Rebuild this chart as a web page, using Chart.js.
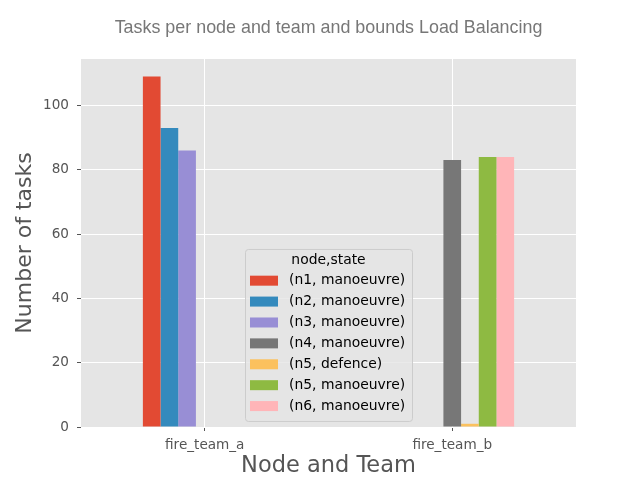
<!DOCTYPE html>
<html>
<head>
<meta charset="utf-8">
<script src="https://cdn.jsdelivr.net/npm/chart.js@4"></script>
<style>
  html, body { margin: 0; padding: 0; background: #ffffff; }
  #wrap { width: 640px; height: 480px; }
</style>
</head>
<body>
<div id="wrap"><canvas id="c" width="640" height="480"></canvas></div>
<script>
const categories = ["fire_team_a", "fire_team_b"];
const seriesLabels = ["(n1, manoeuvre)", "(n2, manoeuvre)", "(n3, manoeuvre)", "(n4, manoeuvre)", "(n5, defence)", "(n5, manoeuvre)", "(n6, manoeuvre)"];
const n1Manoeuvre = [109, null];
const n2Manoeuvre = [93, null];
const n3Manoeuvre = [86, null];
const n4Manoeuvre = [null, 83];
const n5Defence = [null, 1];
const n5Manoeuvre = [null, 84];
const n6Manoeuvre = [null, 84];
const yTicks = [0, 20, 40, 60, 80, 100];
const chartTitle = "Tasks per node and team and bounds Load Balancing";
const xTitle = "Node and Team";
const yTitle = "Number of tasks";
const legendTitle = "node,state";

const seriesValues = [n1Manoeuvre, n2Manoeuvre, n3Manoeuvre, n4Manoeuvre, n5Defence, n5Manoeuvre, n6Manoeuvre];
const colors = ["#E24A33", "#348ABD", "#988ED5", "#777777", "#FBC15E", "#8EBA42", "#FFB5B8"];

const allVals = seriesValues.flat().filter(v => v !== null);
const yMax = Math.max(...allVals) * 1.05;

const bgPlugin = {
  id: 'plotBg',
  beforeDraw(chart) {
    const {ctx, chartArea: a} = chart;
    ctx.save();
    ctx.fillStyle = '#E5E5E5';
    ctx.fillRect(a.left, a.top, a.right - a.left, a.bottom - a.top);
    ctx.restore();
  }
};

const legendPlugin = {
  id: 'innerLegend',
  afterDatasetsDraw(chart) {
    const {ctx, chartArea: a} = chart;
    const x0 = a.left + 164, y0 = a.top + 190, w = 167, h = 172;
    ctx.save();
    ctx.beginPath();
    if (ctx.roundRect) ctx.roundRect(x0 + 0.5, y0 + 0.5, w, h, 3); else ctx.rect(x0 + 0.5, y0 + 0.5, w, h);
    ctx.fillStyle = 'rgba(229,229,229,0.8)';
    ctx.fill();
    ctx.strokeStyle = '#CCCCCC';
    ctx.lineWidth = 1;
    ctx.stroke();
    ctx.font = '13.9px "DejaVu Sans"';
    ctx.fillStyle = '#000000';
    ctx.textBaseline = 'middle';
    ctx.textAlign = 'center';
    ctx.fillText(legendTitle, x0 + w / 2, y0 + 11.5);
    ctx.textAlign = 'left';
    chart.data.datasets.forEach((ds, i) => {
      const cy = y0 + 31.7 + i * 20.9;
      ctx.fillStyle = ds.backgroundColor;
      ctx.fillRect(x0 + 5, cy - 5, 28, 10);
      ctx.fillStyle = '#000000';
      ctx.fillText(ds.label, x0 + 44, cy);
    });
    ctx.restore();
  }
};

new Chart(document.getElementById('c'), {
  type: 'bar',
  data: {
    labels: categories,
    datasets: seriesLabels.map((lab, i) => ({
      label: lab,
      data: seriesValues[i],
      backgroundColor: colors[i],
      borderWidth: 0,
      categoryPercentage: 0.5,
      barPercentage: 1.0
    }))
  },
  options: {
    responsive: false,
    animation: false,
    layout: { padding: { left: 0, right: 0, top: 0, bottom: 0 } },
    plugins: {
      legend: { display: false },
      tooltip: { enabled: false },
      title: {
        display: true,
        fullSize: false,
        text: chartTitle,
        color: '#777777',
        font: { family: '"Liberation Sans", Arial, sans-serif', size: 17.9, weight: 'normal' },
        padding: { top: 17, bottom: 20.5 }
      }
    },
    scales: {
      x: {
        offset: true,
        grid: { color: '#FFFFFF', lineWidth: 1, offset: false, drawTicks: true, tickLength: 4, tickColor: '#555555' },
        border: { display: false },
        ticks: { color: '#555555', font: { family: '"DejaVu Sans"', size: 13.6 }, padding: 6, maxRotation: 0 },
        title: { display: true, text: xTitle, color: '#555555', font: { family: '"DejaVu Sans"', size: 22.5 }, padding: { top: 0, bottom: 0 } },
        afterFit(s) { s.height = 53; }
      },
      y: {
        min: 0,
        max: yMax,
        grid: { color: '#FFFFFF', lineWidth: 1, drawTicks: true, tickLength: 4, tickColor: '#555555' },
        border: { display: false },
        afterBuildTicks(s) { s.ticks = yTicks.map(v => ({ value: v })); },
        ticks: { color: '#555555', font: { family: '"DejaVu Sans"', size: 13.6 }, padding: 8 },
        title: { display: true, text: yTitle, color: '#555555', font: { family: '"DejaVu Sans"', size: 22 }, padding: { top: 12, bottom: 0 } },
        afterFit(s) { s.width = 81; }
      },
      yRight: {
        position: 'right',
        display: true,
        min: 0,
        max: yMax,
        grid: { display: false, drawTicks: false },
        border: { display: false },
        ticks: { display: false },
        afterFit(s) { s.width = 64; }
      }
    }
  },
  plugins: [bgPlugin, legendPlugin]
});
</script>
</body>
</html>
